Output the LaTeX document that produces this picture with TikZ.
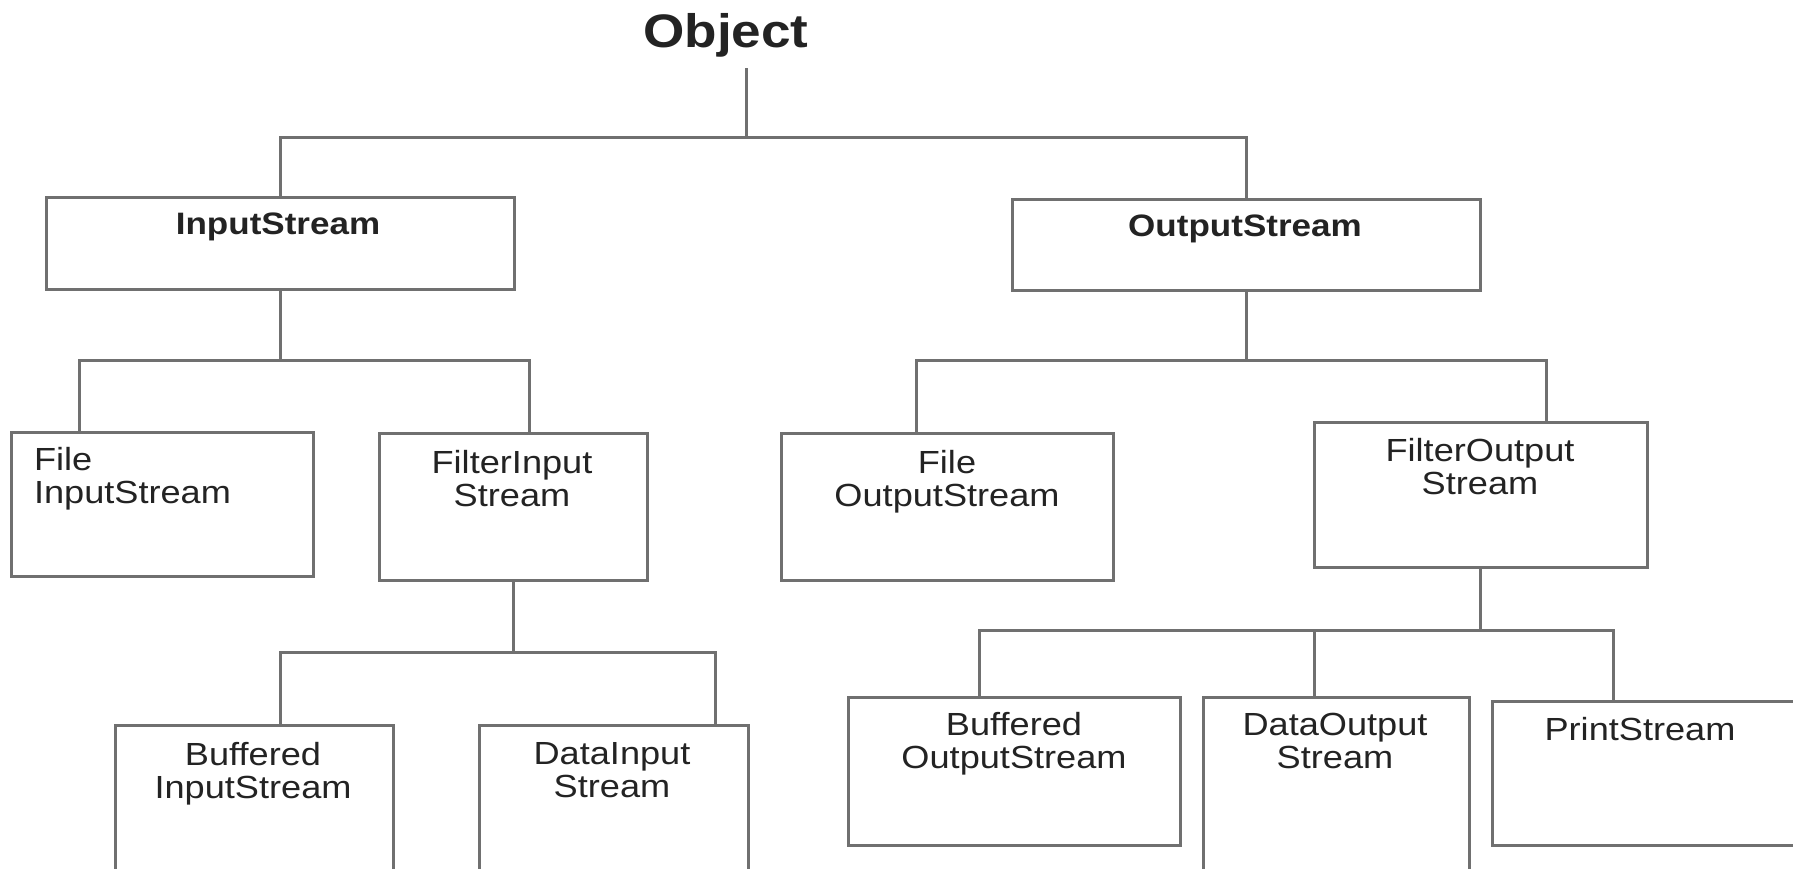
\documentclass[tikz,border=0pt]{standalone}
\usepackage{fontspec}
\setmainfont{Liberation Sans}[FakeStretch=1.13]
\definecolor{ln}{RGB}{112,112,112}
\definecolor{tx}{RGB}{35,35,35}
\tikzset{
  box/.style={draw=ln, line width=3pt, inner sep=0pt, outer sep=0pt},
  conn/.style={draw=ln, line width=3pt},
  lbl/.style={text=tx, inner sep=0pt, outer sep=0pt, font=\fontsize{32}{33}\selectfont, align=center, anchor=north},
  hdr/.style={lbl, font=\fontsize{31}{33}\selectfont\bfseries},
}
\begin{document}
\begin{tikzpicture}[x=1pt,y=-1pt]
\useasboundingbox (0,0) rectangle (1793,868);
\clip (0,0) rectangle (1793,868);
% boxes
\node[box, minimum width=468pt, minimum height=92pt] (inp) at (280,243) {};
\node[box, minimum width=468pt, minimum height=91pt] (outp) at (1246,244.5) {};
\node[box, minimum width=302pt, minimum height=144pt] (fis) at (162,504) {};
\node[box, minimum width=268pt, minimum height=147pt] (filin) at (513,506.5) {};
\node[box, minimum width=332pt, minimum height=147pt] (fos) at (947,506.5) {};
\node[box, minimum width=333pt, minimum height=145pt] (filout) at (1480.5,494.5) {};
\node[box, minimum width=278pt, minimum height=165pt] (bis) at (254,807.5) {};
\node[box, minimum width=269pt, minimum height=165pt] (dis) at (613.5,807.5) {};
\node[box, minimum width=332pt, minimum height=148pt] (bos) at (1014,771) {};
\node[box, minimum width=266pt, minimum height=193pt] (dos) at (1336,793.5) {};
\node[box, minimum width=318pt, minimum height=144pt] (ps) at (1651,773) {};
% texts
\node[text=tx, inner sep=0pt, outer sep=0pt, font=\fontsize{47}{50}\selectfont\bfseries, anchor=north] (obj) at (726,13) {Object};
\node[hdr] (tinp) at (278,213) {InputStream};
\node[hdr] (toutp) at (1245,215) {OutputStream};
\node[lbl, anchor=north west, align=left] (tfis) at (34,447) {File\\InputStream};
\node[lbl] (tfilin) at (512,450) {FilterInput\\Stream};
\node[lbl] (tfos) at (947,450) {File\\OutputStream};
\node[lbl] (tfilout) at (1480,438) {FilterOutput\\Stream};
\node[lbl] (tbis) at (253,742) {Buffered\\InputStream};
\node[lbl] (tdis) at (612,742) {DataInput\\Stream};
\node[lbl] (tbos) at (1014,712) {Buffered\\OutputStream};
\node[lbl] (tdos) at (1335,713) {DataOutput\\Stream};
\node[lbl] (tps) at (1640,717) {PrintStream};
% connectors
\coordinate (otop) at (746,68);
\coordinate (j0) at (746,137);
\draw[conn] (otop) -- (j0);
\draw[conn] (inp.north) |- (j0) -| (outp.north);
% InputStream children
\coordinate (b1) at (280,360);
\coordinate (b1l) at (79,360);
\coordinate (b1r) at (529,360);
\draw[conn] (inp.south) -- (b1);
\draw[conn] (b1l |- fis.north) -- (b1l) -- (b1r) -- (b1r |- filin.north);
% OutputStream children
\coordinate (b2) at (1246,360);
\coordinate (b2l) at (916,360);
\coordinate (b2r) at (1546,360);
\draw[conn] (outp.south) -- (b2);
\draw[conn] (b2l |- fos.north) -- (b2l) -- (b2r) -- (b2r |- filout.north);
% FilterInputStream children
\coordinate (b3) at (513,652);
\coordinate (b3l) at (280,652);
\coordinate (b3r) at (715,652);
\draw[conn] (filin.south) -- (b3);
\draw[conn] (b3l |- bis.north) -- (b3l) -- (b3r) -- (b3r |- dis.north);
% FilterOutputStream children
\coordinate (b4) at (1480.5,630);
\coordinate (b4l) at (979,630);
\coordinate (b4m) at (1314,630);
\coordinate (b4r) at (1613,630);
\draw[conn] (filout.south) -- (b4);
\draw[conn] (b4l |- bos.north) -- (b4l) -- (b4r) -- (b4r |- ps.north);
\draw[conn] (b4m) -- (b4m |- dos.north);
\end{tikzpicture}
\end{document}
